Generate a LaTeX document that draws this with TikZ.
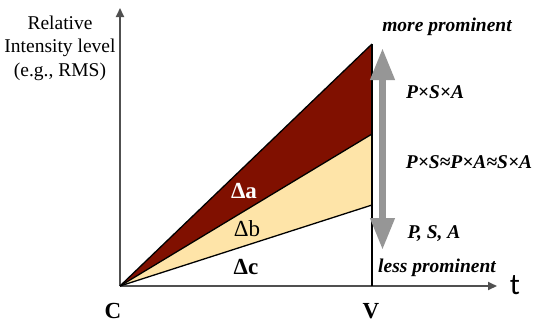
\documentclass[tikz,border=0pt]{standalone}
\usepackage{fontspec}
\setmainfont{Liberation Serif}
\newfontfamily\tfont{Carlito}
\usetikzlibrary{arrows.meta}
\definecolor{darkred}{RGB}{128,16,0}
\definecolor{beige}{RGB}{254,228,168}
\definecolor{axisgrey}{RGB}{80,80,80}
\definecolor{arrowgrey}{RGB}{150,150,150}
\begin{document}
\begin{tikzpicture}[x=1pt,y=-1pt,
  axis/.style={draw=axisgrey,line width=2pt,-{Triangle[width=8pt,length=9pt]}},
  edge/.style={draw=black,line width=1.3pt,line join=round},
  lbl/.style={inner sep=0pt,font=\fontsize{17}{20}\selectfont},
  blbl/.style={lbl,font=\fontsize{19.5}{22}\selectfont\bfseries\itshape}]
\useasboundingbox[fill=white] (0,0) rectangle (537,324);
\coordinate (C) at (120,286);
\coordinate (ytop) at (120,8);
\coordinate (xend) at (497,286);
\coordinate (V) at (372,286);
\coordinate (A) at (372,44);
\coordinate (B) at (372,134);
\coordinate (Cc) at (372,205);
% fills
\fill[darkred] (C) -- (A) -- (B) -- cycle;
\fill[beige] (C) -- (B) -- (Cc) -- cycle;
% axes
\draw[axis] (C) -- (ytop);
\draw[axis] (C) -- (xend);
% edges
\draw[edge] (C) -- (A);
\draw[edge] (C) -- (B);
\draw[edge] (C) -- (Cc);
\draw[edge,line width=2.2pt] (V) -- (A);
% grey double arrow
\coordinate (gt) at (382.5,48);
\coordinate (gb) at (382.5,250);
\draw[arrowgrey,line width=7pt,{Triangle[width=23pt,length=32pt]}-{Triangle[width=23pt,length=32pt]}] (gb) -- (gt);
% labels
\node[lbl,align=center,font=\fontsize{19.5}{23.5}\selectfont] (ylab) at (60,48) {Relative\\Intensity level\\(e.g., RMS)};
\node[blbl] (more) at (447,27) {more prominent};
\node[blbl] (psa) at (435,92) {P×S×A};
\node[blbl] (mid) at (469,162) {P×S≈P×A≈S×A};
\node[blbl] (p) at (434,234) {P, S, A};
\node[blbl] (less) at (437,268) {less prominent};
\node[lbl,font=\tfont\fontsize{30}{32}\selectfont] (t) at (515,285) {t};
\node[lbl,font=\fontsize{23}{25}\selectfont\bfseries] (Cl) at (113,311) {C};
\node[lbl,font=\fontsize{23}{25}\selectfont\bfseries] (Vl) at (371,311) {V};
\node[lbl,text=white,font=\fontsize{23}{25}\selectfont\bfseries] (da) at (244,191) {Δa};
\node[lbl,font=\fontsize{23}{25}\selectfont] (db) at (247,229) {Δb};
\node[lbl,font=\fontsize{23}{25}\selectfont\bfseries] (dc) at (246,267) {Δc};
\end{tikzpicture}
\end{document}
